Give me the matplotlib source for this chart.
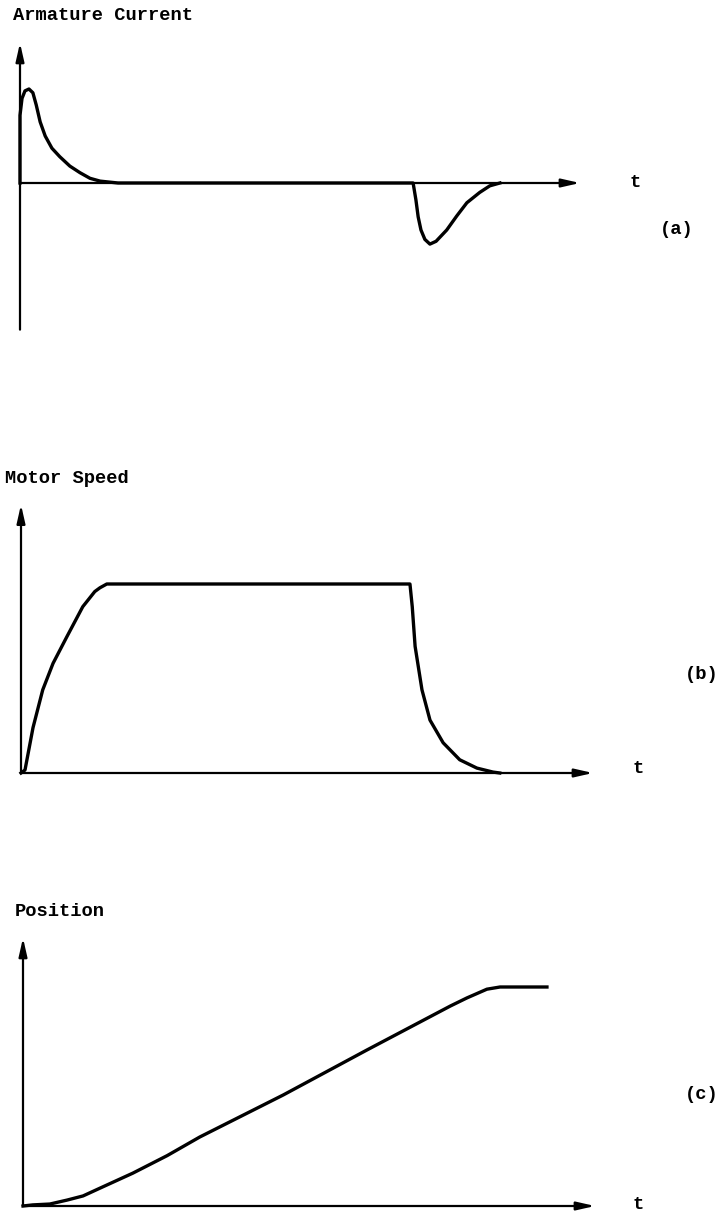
import matplotlib
matplotlib.use('Agg')
import matplotlib.pyplot as plt

W, H = 721, 1212

# (a) armature current vs time
cur_t = [0, 0, 0.036, 0.089, 0.16, 0.23, 0.29, 0.36, 0.45, 0.57, 0.71, 0.89, 1.07,
         1.25, 1.43, 1.75, 7.02, 7.07, 7.11, 7.16, 7.23, 7.32, 7.43, 7.62, 7.80,
         7.98, 8.21, 8.39, 8.57]
cur_i = [0, 0.72, 0.90, 0.98, 1.0, 0.96, 0.83, 0.65, 0.50, 0.37, 0.28, 0.18, 0.11,
         0.05, 0.02, 0, 0, -0.18, -0.36, -0.50, -0.60, -0.65, -0.62, -0.50, -0.35,
         -0.21, -0.10, -0.03, 0]

# (b) motor speed vs time
spd_t = [0, 0.07, 0.21, 0.38, 0.56, 0.80, 1.08, 1.29, 1.38, 1.50, 6.80, 6.84,
         6.89, 7.01, 7.15, 7.38, 7.67, 7.97, 8.25, 8.37]
spd_s = [0, 0.016, 0.24, 0.44, 0.58, 0.72, 0.88, 0.96, 0.98, 1.0, 1.0, 0.88,
         0.67, 0.44, 0.28, 0.16, 0.07, 0.026, 0.005, 0]

# (c) position vs time
pos_t = [0, 0.17, 0.47, 0.77, 1.05, 1.35, 1.92, 2.52, 3.09, 4.55, 6.01, 7.47,
         7.76, 8.11, 8.34, 9.16]
pos_p = [0, 0.005, 0.009, 0.027, 0.046, 0.082, 0.15, 0.23, 0.315, 0.507, 0.712,
         0.913, 0.95, 0.99, 1.0, 1.0]

titles = ['Armature Current', 'Motor Speed', 'Position']
tags = ['(a)', '(b)', '(c)']

mono = ['Liberation Mono', 'DejaVu Sans Mono']

fig = plt.figure(figsize=(W / 100, H / 100), dpi=100)


def make_axes(top, bot, ox, oy, sx, sy):
    # axes spanning pixel rows top..bot, origin at pixel (ox, oy)
    ax = fig.add_axes([0, 1 - bot / H, 1, (bot - top) / H])
    ax.set_xlim(-ox / sx, (W - ox) / sx)
    ax.set_ylim((oy - bot) / sy, (oy - top) / sy)
    ax.axis('off')
    return ax


def arrow(ax, x0, y0, x1, y1):
    ax.annotate('', xy=(x1, y1), xytext=(x0, y0),
                arrowprops=dict(arrowstyle='-|>,head_length=1.1,head_width=0.25',
                                lw=1.6, color='black', shrinkA=0, shrinkB=0))


def txt(ax, x, y, s):
    ax.text(x, y, s, family=mono, fontweight='bold', fontsize=13.5,
            ha='left', va='center', color='black')


# panel (a)
ax = make_axes(0, 400, 20, 183, 56, 94)
arrow(ax, 0, -1.56, 0, 1.49)
arrow(ax, 0, 0, 10, 0)
ax.plot(cur_t, cur_i, color='black', lw=2.4, solid_joinstyle='round')
txt(ax, -0.13, 1.787, titles[0])
txt(ax, 10.89, 0.01, 't')
txt(ax, 11.43, -0.49, tags[0])

# panel (b)
ax = make_axes(400, 800, 21, 773, 57.2, 189)
arrow(ax, 0, 0, 0, 1.42)
arrow(ax, 0, 0, 10, 0)
ax.plot(spd_t, spd_s, color='black', lw=2.4, solid_joinstyle='round')
txt(ax, -0.28, 1.56, titles[1])
txt(ax, 10.69, 0.026, 't')
txt(ax, 11.61, 0.52, tags[1])

# panel (c)
ax = make_axes(800, 1212, 23, 1206, 57.2, 219)
arrow(ax, 0, 0, 0, 1.224)
arrow(ax, 0, 0, 10, 0)
ax.plot(pos_t, pos_p, color='black', lw=2.4, solid_joinstyle='round')
txt(ax, -0.14, 1.347, titles[2])
txt(ax, 10.66, 0.005, 't')
txt(ax, 11.57, 0.511, tags[2])

fig.savefig('out.png', dpi=100, facecolor='white')
